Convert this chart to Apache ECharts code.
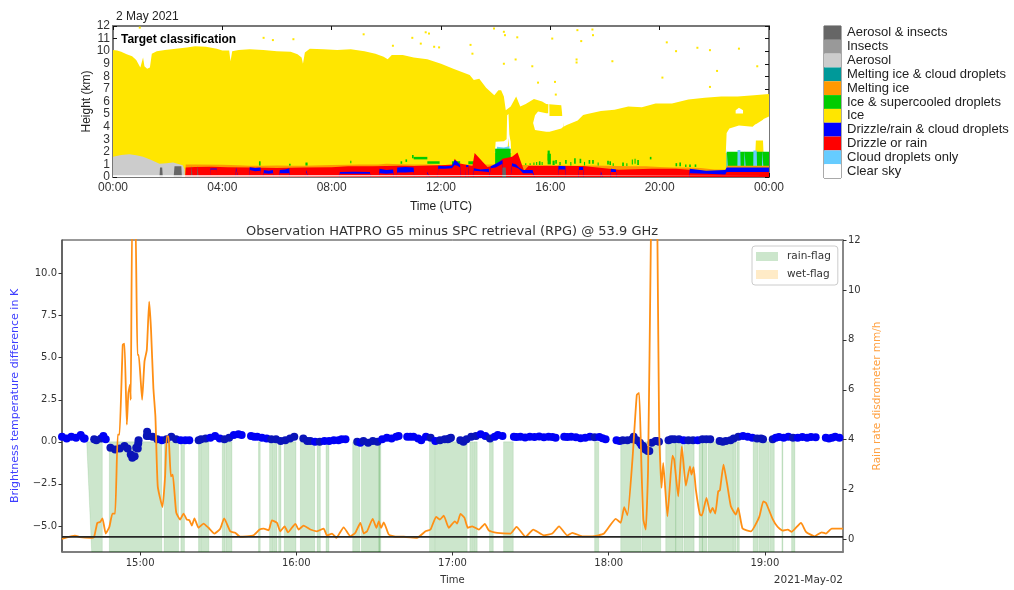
<!DOCTYPE html>
<html><head><meta charset="utf-8">
<style>html,body{margin:0;padding:0;background:#fff}#c{width:1014px;height:590px}</style>
<script src="https://cdn.jsdelivr.net/npm/echarts@6/dist/echarts.min.js"></script>
</head><body><div id="c"></div>
<script>
// ---------- top panel: target classification (hours UTC, km) ----------
const clockLabels = {0:'00:00',4:'04:00',8:'08:00',12:'12:00',16:'16:00',20:'20:00',24:'00:00'};
const classNames = ['Aerosol & insects','Insects','Aerosol','Melting ice & cloud droplets','Melting ice','Ice & supercooled droplets','Ice','Drizzle/rain & cloud droplets','Drizzle or rain','Cloud droplets only','Clear sky'];
const classColors = ['#666666','#999999','#cccccc','#009999','#ff9900','#00cc00','#ffe600','#0000ff','#ff0000','#66ccff','#ffffff'];

const iceTime = [0,.15,.3,.5,.7,.85,1,1.05,1.1,1.15,1.25,1.35,1.42,1.6,1.9,2.3,2.7,3,3.4,3.8,4,4.25,4.3,4.36,4.6,5,5.5,6,6.5,6.75,6.9,6.95,7.02,7.2,7.7,8.2,8.7,9.2,9.6,9.9,10.05,10.2,10.6,11,11.5,12,12.45,13.05,13.2,13.4,13.65,13.95,14.1,14.2,14.3,14.37,14.55,14.7,14.75,14.9,15.1,15.4,15.7,15.85,15.9,16.4,16.46,16.48,16.6,17,17.2,17.35,17.85,18.35,18.85,19.35,19.85,20.45,21.05,21.65,22.25,22.85,23.45,24];
const iceTop  = [10.1,10.05,9.95,9.75,9.6,9.3,8.7,8.6,9.5,8.8,8.6,8.7,9.8,10,10.1,10.2,10.3,10.4,10.35,10.2,10.05,10.05,9.2,10,10.1,10.15,10.1,10,9.95,9.75,9.5,9,9.9,10.2,10.15,10.1,10.15,10,9.8,9.55,9.35,9.7,9.7,9.5,9.35,9,8.6,8.1,7.7,7.8,7.1,6.5,6.9,6.9,6.4,5.3,5.6,6.2,6.4,5.6,5.8,6.2,6,5.8,5.7,5.7,5.65,4,4.13,4.5,4.93,5,5.25,5.35,5.6,5.55,5.85,5.85,6.15,6.3,6.4,6.4,6.5,6.6];

const gapATime = [15.37,15.44,15.55,15.85,15.92,15.93,15.96,15.97,16.4,16.45,16.46,16.47];
const gapATop  = [4.3,4.9,5.2,5.07,5.07,6,6,4.85,4.85,4.85,5.8,5.8];
const gapABase = [4.3,3.73,3.7,3.6,3.6,3.6,3.6,3.6,3.85,3.95,3.95,4];
const gapBTime = [22.78,22.9,23.05];
const gapBTop  = [5.3,5.5,5.3];
const gapBBase = [5.05,5.05,5.05];
const gapCTime = [22.42,22.45,22.55,22.9,23.4,23.5,23.52,23.78,23.8,24];
const gapCTop  = [1.9,3.5,3.85,4.1,4,4.2,4.2,4.55,4.6,4.8];
const gapCBase = [1.9,1.9,1.9,1.9,1.9,1.9,2.9,2.9,1.9,1.9];
const gapDTime = [13.97,14,14.3,14.4,14.42,14.47,14.5,14.53,14.55,14.57];
const gapDTop  = [1.9,2.8,2.85,3,4.9,5,3.4,3,2.8,1.9];
const gapDBase = [1.9,1.9,1.9,1.9,1.9,3.1,1.9,1.9,1.9,1.9];

const capTime = [13.98,14.05,14.3,14.33,14.5,14.53];
const capTop  = [0,2.4,2.35,2.45,2.45,0];

const greenStart = [5.34,6.44,7.04,8.68,10.52,10.7,10.94,11,11.5,12.4,13,13.98,15.08,15.24,15.38,15.48,15.58,15.68,15.9,15.9,16.08,16.18,16.33,16.54,16.73,16.87,17.07,17.23,17.4,17.53,17.73,18.08,18.16,18.28,18.63,18.78,18.98,19.08,19.18,19.64,20.58,20.72,20.93,21.08,21.28,22.45];
const greenEnd   = [5.4,6.5,7.12,8.72,10.58,10.76,11,11.5,11.95,12.7,13.22,14.55,15.12,15.28,15.42,15.52,15.64,15.72,15.98,16.02,16.16,16.24,16.38,16.6,16.77,16.93,17.13,17.27,17.46,17.59,17.77,18.14,18.22,18.32,18.69,18.82,19.02,19.12,19.24,19.7,20.64,20.78,20.98,21.14,21.34,24];
const greenBase  = [.9,.9,.9,1.1,1.05,1.2,1.5,1.4,1.05,.95,1,.95,.9,.9,.9,.95,.95,.95,1.3,1,.95,1.05,.95,1.05,.9,1.05,1.1,.9,1.05,1.05,.9,1,.95,.85,.85,.85,1,1.05,.95,1.4,.85,.85,.8,.8,.8,.8];
const greenTop   = [1.25,1.05,1.15,1.3,1.25,1.4,1.75,1.6,1.25,1.25,1.25,2.25,1.1,1.1,1.15,1.2,1.25,1.2,2.1,1.85,1.3,1.35,1.2,1.35,1.2,1.5,1.45,1.2,1.35,1.35,1.15,1.3,1.25,1.1,1.15,1.1,1.4,1.45,1.35,1.6,1.1,1.15,1,1,1,2];

const aerosolTime = [0,.3,.6,.85,1.1,1.4,1.7,1.95,2.2,2.55,2.62,2.63];
const aerosolTop  = [1.6,1.75,1.8,1.72,1.6,1.35,1.05,1.1,1.15,.93,.6,0];

const cloudTime = [22.44,22.45,22.5,22.52,22.84,22.85,22.95,22.97,23.09,23.1,23.16,23.18,23.42,23.43,23.55,23.57,23.74,23.75,23.8,23.82];
const cloudTop  = [0,2.25,2.25,0,0,2.15,2.15,0,0,2.1,2.1,0,0,2.1,2.1,0,0,2.15,2.15,0];

const meltTime = [2.64,2.66,3,4,4.6,5,5.5,6,6.6,7,8,8.6,9,9.7,10,10.5,11,11.6,12,12.5,13,13.8,14.1,15,16,16.6,17,17.5,18,18.5,19,19.5,20,20.5,21,21.5,22,22.44,22.46,24];
const meltTop  = [0,1,1,.97,.93,.9,.9,.92,.9,.9,.95,.97,1,1,1.05,1.02,1,1,.95,.96,1,1,1,.95,.95,.92,.9,.92,.9,.88,.85,.86,.8,.75,.75,.72,.6,.6,.9,.9];

const redTime = [2.64,2.66,3,3.6,4.2,5,6,7,8,8.6,9.5,10.5,11,12,12.45,12.5,12.65,13.15,13.23,13.7,14,14.25,14.6,14.8,15.04,15.2,16,17.2,18.5,19.7,20.6,21.3,22.4,24];
const redTop  = [0,.75,.8,.82,.78,.75,.72,.75,.78,.85,.85,.9,.88,.93,1,1.46,1.1,.87,1.9,.8,.93,1.46,1.6,1.95,.5,.87,.87,.87,.58,.66,.66,.53,.32,.4];

const blueTime = [3.55,3.56,3.8,3.81,4.48,4.5,4.56,4.58,4.98,5,5.2,5.4,5.42,5.5,5.52,5.7,5.85,5.87,6.08,6.1,6.3,6.45,6.47,7.05,7.07,7.12,7.14,8.28,8.3,8.8,9.4,9.42,9.73,9.75,10,10.25,10.27,10.38,10.4,10.7,11,11.02,11.48,11.5,11.56,11.58,11.88,11.9,12.15,12.4,12.5,12.6,12.7,12.72,12.9,12.92,13,13.02,13.18,13.2,13.45,13.75,13.77,13.8,13.82,14,14.25,14.27,14.55,14.6,14.75,14.85,15,15.35,15.4,15.42,16.28,16.3,16.55,16.57,17.03,17.05,17.2,17.22,17.83,17.85,17.9,17.92,18.2,18.22,18.4,18.42,21.08,21.1,21.7,22.4,22.45,24];
const blueTop  = [0,.68,.68,0,0,.78,.78,0,0,.78,.72,.75,0,0,.55,.5,.55,0,0,.55,.6,.7,0,0,.55,.55,0,0,.4,.42,.4,0,0,.65,.55,.6,0,0,.75,.8,.75,0,0,.42,.42,0,0,.9,.85,.9,1.35,1.2,.95,0,0,.95,.95,0,0,.7,.6,.65,0,0,.85,1.05,1.35,0,0,1.1,1,.75,.55,.55,.55,0,0,.9,.85,0,0,.8,.8,0,0,.45,.45,0,0,.65,.6,0,0,.65,.5,.55,.75,.75];
const blueBase = [0,.6,.6,0,0,.6,.6,0,0,.55,.45,.5,0,0,.3,.25,.3,0,0,.3,.3,.3,0,0,.4,.4,0,0,.25,.25,.25,0,0,.3,.25,.3,0,0,.35,.35,.4,0,0,.3,.3,0,0,.65,.65,.7,.95,.9,.75,0,0,.8,.8,0,0,.5,.45,.4,0,0,.7,.75,1.05,0,0,.85,.75,.65,.3,.3,.35,0,0,.6,.6,0,0,.55,.55,0,0,.3,.3,0,0,.4,.4,0,0,.3,.25,.2,.4,.4];

const mixedTime = [1.7,1.72,1.8,1.82,2.22,2.25,2.5,2.52,2.86,2.87,2.9,2.91,3.08,3.09,3.12,3.13,14.24,14.25,14.37,14.38];
const mixedTop  = [0,.75,.75,0,0,.85,.85,0,0,.9,.9,0,0,.9,.9,0,0,.75,.75,0];
const groundTime = [0,24];
const groundTop  = [.13,.13];

const speckTime = [11.44,11.26,11.75,13.08,13.15,13.94,14.3,14.34,14.79,14.73,14.3,15.34,15.55,16.07,16.17,16.2,16.99,17.13,17.54,17.56,16.96,16.96,18.27,20.1,20.26,20.6,21.38,21.84,21.84,22.1,22.9,23.57,11.56,11.93,.98,5.51,5.85,6.6,9.17,10.95,10.24];
const speckKm   = [11.5,10.6,10.35,10.5,9.8,11.8,11.54,11.27,11.1,9.34,9,8.8,7.5,11,7.56,6.55,11.67,10.8,11.72,11.27,9.34,9.1,9.2,7.9,10.7,10,10.27,10.08,7.16,8.43,10.2,8.8,11.4,10.3,11.87,11.06,10.88,10.95,11.34,11.06,10.43];

// ---------- bottom panel (decimal hours) ----------
const hourLabels = {15:'15:00',16:'16:00',17:'17:00',18:'18:00',19:'19:00'};
const diffTicks = [-5,-2.5,0,2.5,5,7.5,10];
const diffTickLabels = ['\u22125.0','\u22122.5','0.0','2.5','5.0','7.5','10.0'];
const rateTicks = [0,2,4,6,8,10,12];

const rainStart = [14.69,14.803,15.154,15.261,15.374,15.389,15.526,15.549,15.758,15.829,15.855,15.887,15.923,16.026,16.133,16.19,16.361,16.417,16.528,16.853,16.891,17.111,17.137,17.237,17.327,17.91,18.077,18.212,18.365,18.429,18.483,18.579,18.6,18.637,18.797,18.821,18.925,18.964,19.034,19.109,19.171];
const rainEnd   = [14.758,15.139,15.246,15.284,15.385,15.44,15.544,15.588,15.769,15.851,15.876,15.902,15.998,16.118,16.154,16.209,16.406,16.534,16.541,16.887,17.094,17.133,17.158,17.261,17.389,17.936,18.205,18.333,18.429,18.476,18.547,18.6,18.628,18.793,18.814,18.836,18.957,19.028,19.06,19.115,19.192];
const rainLeadIn = 14.658;

const btTime = [14.5,14.53,14.56,14.59,14.62,14.64,14.645,
14.706,14.72,14.75,14.765,14.78,14.81,14.84,14.87,14.9,14.92,14.94,14.95,14.965,14.975,14.985,14.988,14.99,
15.043,15.045,15.055,15.08,15.11,15.14,15.17,15.2,15.23,15.26,15.29,15.315,
15.375,15.39,15.42,15.45,15.48,15.51,15.54,15.57,15.6,15.63,15.65,
15.71,15.73,15.75,15.78,15.81,15.84,15.87,15.9,15.93,15.96,15.987,
16.045,16.07,16.09,16.12,16.15,16.18,16.21,16.24,16.27,16.29,16.315,
16.39,16.41,16.43,16.46,16.49,16.52,
16.55,16.58,16.61,16.64,16.655,
16.71,16.73,16.75,16.78,16.8,16.83,16.86,16.89,16.92,16.95,16.97,16.98,16.99,
17.05,17.07,17.09,17.12,17.15,17.18,17.21,17.24,17.27,17.29,17.32,
17.393,17.41,17.435,17.465,17.495,17.525,17.555,17.585,17.615,17.64,17.66,
17.715,17.735,17.76,17.79,17.82,17.85,17.88,17.91,17.94,17.96,17.98,
18.05,18.07,18.09,18.12,18.15,18.16,18.18,18.2,18.21,18.22,18.235,18.25,18.26,18.275,18.3,18.31,18.322,
18.383,18.4,18.42,18.45,18.48,18.51,18.54,18.57,18.6,18.625,18.65,
18.71,18.73,18.75,18.78,18.8,18.83,18.86,18.89,18.92,18.95,18.975,18.988,
19.05,19.07,19.09,19.12,19.15,19.18,19.21,19.24,19.27,19.295,19.325,
19.39,19.41,19.43,19.45,19.477];
const btDiff = [.3,.2,.3,.25,.4,.2,.2,
.15,.1,.2,.35,.15,-.35,-.45,-.4,-.25,-.4,-.75,-.95,-.85,-.35,-.4,-.1,.1,
.35,.6,.35,.3,.15,.1,.15,.3,.15,.1,.1,.1,
.1,.15,.2,.25,.35,.2,.15,.25,.4,.45,.4,
.35,.3,.3,.25,.2,.15,.15,.05,.1,.2,.3,
.2,.05,.05,0,0,.05,.05,.1,.1,.15,.15,
0,-.05,.05,-.05,.05,0,
.15,.25,.2,.3,.35,
.3,.3,.3,.2,.1,.3,.25,.05,.1,.15,.15,.2,.25,
.1,0,.15,.3,.35,.45,.35,.2,.3,.4,.35,
.3,.28,.3,.26,.3,.28,.32,.27,.3,.28,.25,
.3,.28,.3,.27,.22,.25,.3,.27,.28,.22,.15,
.1,.05,.1,.1,.15,.3,.1,-.05,-.2,-.25,-.45,-.55,-.55,-.05,.05,.05,0,
.1,.15,.15,.15,.1,.1,.1,.1,.15,.15,.15,
.05,0,.05,.1,.2,.3,.35,.3,.25,.2,.2,.15,
.15,.25,.28,.25,.3,.25,.25,.28,.25,.28,.27,
.25,.2,.25,.3,.25];

const rateTime = [14.5,14.583,14.615,14.68,14.705,14.726,14.744,14.759,14.78,14.803,14.823,14.84,14.857,14.868,14.889,14.9,14.915,14.925,14.936,14.94,14.951,14.968,14.983,14.991,15.013,15.028,15.043,15.058,15.07,15.085,15.098,15.113,15.143,15.16,15.171,15.182,15.197,15.209,15.231,15.256,15.278,15.299,15.316,15.331,15.348,15.374,15.406,15.438,15.476,15.513,15.538,15.577,15.609,15.641,15.726,15.765,15.791,15.823,15.844,15.876,15.897,15.925,15.947,15.994,16.015,16.047,16.09,16.132,16.175,16.197,16.229,16.256,16.303,16.346,16.378,16.41,16.432,16.453,16.489,16.513,16.528,16.543,16.56,16.592,16.635,16.688,16.773,16.827,16.859,16.895,16.919,16.944,16.976,17.015,17.03,17.051,17.077,17.098,17.126,17.169,17.207,17.233,17.286,17.372,17.41,17.468,17.517,17.585,17.639,17.682,17.735,17.767,17.831,17.895,17.97,18.045,18.077,18.099,18.12,18.152,18.18,18.195,18.21,18.222,18.237,18.252,18.27,18.274,18.302,18.312,18.323,18.338,18.349,18.376,18.408,18.419,18.445,18.468,18.494,18.52,18.53,18.543,18.558,18.584,18.596,18.626,18.65,18.665,18.682,18.701,18.712,18.735,18.757,18.782,18.814,18.829,18.857,18.911,18.964,18.99,19.007,19.049,19.081,19.113,19.146,19.171,19.231,19.263,19.317,19.364,19.391,19.428,19.5];
const rateMmh = [.03,.16,.1,.07,.1,.67,.7,.85,.24,.5,1.04,1.04,4.2,4.2,7.8,7.85,4.6,5.87,6.2,5.6,13.5,13.5,7.4,7.4,5.6,7.13,7.6,9.53,8.4,6.07,4.93,2.13,1.3,2.53,4.13,4.13,2.53,2.6,1.09,.8,1.04,.8,.77,.56,.85,.47,.64,.47,.24,.43,.85,.33,.27,.11,.17,.4,.44,.37,.77,.67,.33,.53,.29,.63,.4,.56,.4,.33,.44,.16,.24,.07,.49,.13,.27,.67,.24,.33,.83,.47,.73,.47,.69,.2,.11,.11,.07,.33,.4,.91,.8,.96,.47,.73,.64,1.03,.87,.47,.53,.4,.63,.36,.27,.24,.51,.11,.4,.17,.24,.53,.16,.27,.13,.13,.24,.83,.67,1.3,.97,3.2,5.8,5.87,2.8,.8,.4,2.8,12,14,14,12,4.4,2.07,3.07,.93,3.36,3.2,1.73,3.73,2.16,2.93,2.6,2.9,2,1,.96,1.67,1.07,1.27,1.04,1.93,1.97,3,2.27,1.33,1,1.27,.44,.33,.91,1.53,1.47,.83,.51,.36,.4,.31,.67,.31,.13,.29,.24,.44,.44];

const refTime = [14.5,19.5];
const refDiff = [-5.65,-5.65];

// ---------- helpers ----------
const zip = (a,b) => a.map((v,i)=>[v,b[i]]);
const sans = 'Liberation Sans';
const dejavu = 'DejaVu Sans';
const diffMin = -6.55;

function layer(name, xs, ys, color){
  return {name, type:'line', xAxisIndex:0, yAxisIndex:0, data:zip(xs,ys), showSymbol:false, silent:true,
    lineStyle:{width:0}, itemStyle:{color}, areaStyle:{color, opacity:1}, z:2, animation:false, smooth:false};
}
// one closed polygon between a lower and an upper edge, drawn once through the axis scales
function band(name, xs, tops, bases, color){
  const rows = xs.map((x,i)=>[x,bases[i],tops[i]]);
  return {name, type:'custom', xAxisIndex:0, yAxisIndex:0, data:rows, encode:{x:0,y:[1,2]}, z:2, silent:true, clip:true,
    renderItem(p,api){
      if(p.dataIndex!==0) return null;
      const up = rows.map(r=>api.coord([r[0],r[2]]));
      const low = rows.map(r=>api.coord([r[0],r[1]])).reverse();
      return {type:'polygon',shape:{points:up.concat(low)},style:{fill:color}};
    }};
}
const inRain = t => rainStart.some((s,i)=>t>=s && t<=rainEnd[i]);
const rainRows = rainStart.map((s,i)=>[s, i===0?rainLeadIn:s, rainEnd[i]]);
const greenRows = greenStart.map((s,i)=>[s,greenEnd[i],greenBase[i],greenTop[i]]);

const series = [
  layer('ice', iceTime, iceTop, classColors[6]),
  band('gapA', gapATime, gapATop, gapABase, '#ffffff'),
  band('gapB', gapBTime, gapBTop, gapBBase, '#ffffff'),
  band('gapC', gapCTime, gapCTop, gapCBase, '#ffffff'),
  band('gapD', gapDTime, gapDTop, gapDBase, '#ffffff'),
  layer('cap', capTime, capTop, classColors[9]),
  {name:'green', type:'custom', xAxisIndex:0, yAxisIndex:0, data:greenRows, encode:{x:[0,1],y:[2,3]}, z:2, silent:true, clip:true,
    renderItem(p,api){
      const a=api.coord([api.value(0),api.value(2)]), b=api.coord([api.value(1),api.value(3)]);
      return {type:'rect',shape:{x:a[0],y:b[1],width:b[0]-a[0],height:a[1]-b[1]},style:{fill:classColors[5]}};
    }},
  layer('cloud', cloudTime, cloudTop, classColors[9]),
  layer('aerosol', aerosolTime, aerosolTop, classColors[2]),
  layer('melt', meltTime, meltTop, classColors[4]),
  layer('red', redTime, redTop, classColors[8]),
  layer('blue', blueTime, blueTop, classColors[7]),
  layer('red-base', blueTime, blueBase, classColors[8]),
  layer('mixed', mixedTime, mixedTop, classColors[0]),
  layer('ground', groundTime, groundTop, '#ffffff'),
  {name:'specks', type:'scatter', xAxisIndex:0, yAxisIndex:0, data:zip(speckTime,speckKm), symbol:'rect', symbolSize:2, itemStyle:{color:classColors[6],opacity:1}, silent:true, z:3},
  {name:'classes', type:'bar', xAxisIndex:3, yAxisIndex:4, barWidth:'100%', silent:true, z:2,
    data:classNames.map((n,i)=>({value:1,itemStyle:{color:classColors[i]}}))},
  {name:'rain-flag', type:'custom', xAxisIndex:2, yAxisIndex:2, data:rainRows, encode:{x:[0,1,2]}, z:2, silent:true,
    itemStyle:{color:'rgba(0,128,0,0.2)'}, clip:true,
    renderItem(p,api){
      const a=api.coord([api.value(0),diffMin]), b=api.coord([api.value(1),0]), c=api.coord([api.value(2),0]), d=api.coord([api.value(2),diffMin]);
      return {type:'polygon',shape:{points:[a,b,c,d]},style:{fill:'rgba(0,128,0,0.2)',stroke:'rgba(0,128,0,0.1)',lineWidth:1}};
    }},
  {name:'wet-flag', type:'custom', xAxisIndex:2, yAxisIndex:2, data:[], itemStyle:{color:'rgba(255,165,0,0.22)'}, renderItem(){return null;}},
  {name:'difference', type:'scatter', xAxisIndex:2, yAxisIndex:2, data:zip(btTime,btDiff), symbol:'circle', symbolSize:8, z:3, silent:true,
    itemStyle:{opacity:1,color:p=>inRain(p.value[0])?'#0a14b8':'#0000f5'}},
  {name:'rain rate', type:'line', xAxisIndex:2, yAxisIndex:3, data:zip(rateTime,rateMmh), showSymbol:false, smooth:0.15, silent:true, z:4,
    lineStyle:{color:'#ff8f14',width:1.8}, itemStyle:{color:'#ff8f14'}},
  {name:'reference', type:'line', xAxisIndex:2, yAxisIndex:2, data:zip(refTime,refDiff), showSymbol:false, silent:true, z:5,
    lineStyle:{color:'#262626',width:1.6}}
];

const option = {
  animation:false, backgroundColor:'#fff',
  title:[
    {text:'Observation HATPRO G5 minus SPC retrieval (RPG) @ 53.9 GHz', left:447, top:220, textAlign:'center',
     textStyle:{fontFamily:dejavu,fontSize:13,fontWeight:'normal',color:'#333'}},
    {text:'2 May 2021', left:111, top:6, textStyle:{fontFamily:sans,fontSize:12,fontWeight:'normal',color:'#222'}},
    {text:'Target classification', left:116, top:29, z:10, textStyle:{fontFamily:sans,fontSize:12,fontWeight:'bold',color:'#000'}}
  ],
  grid:[
    {left:113,top:26,width:656,height:151,show:false},
    {left:62,top:240,width:781,height:313,show:true,borderColor:'#333',borderWidth:1,backgroundColor:'#fff'},
    {left:824,top:26,width:17,height:152,show:true,borderColor:'#555',borderWidth:1}
  ],
  xAxis:[
    {type:'value',gridIndex:0,min:0,max:24,interval:4,position:'bottom',
     name:'Time (UTC)',nameLocation:'middle',nameGap:24,nameTextStyle:{fontFamily:sans,fontSize:12,color:'#222'},
     axisLine:{show:true,onZero:false,lineStyle:{color:'#777',width:2}},
     axisTick:{show:true,inside:true,length:4,lineStyle:{color:'#111'}},splitLine:{show:false},
     axisLabel:{fontFamily:sans,fontSize:12,color:'#333',margin:5,showMinLabel:true,showMaxLabel:true,formatter:v=>clockLabels[v]}},
    {type:'value',gridIndex:0,min:0,max:24,interval:4,position:'top',
     axisLine:{show:true,onZero:false,lineStyle:{color:'#777',width:2}},
     axisTick:{show:true,inside:true,length:4,lineStyle:{color:'#111'}},axisLabel:{show:false},splitLine:{show:false}},
    {type:'value',gridIndex:1,min:14.5,max:19.5,position:'bottom',
     name:'Time',nameLocation:'middle',nameGap:23,nameTextStyle:{fontFamily:dejavu,fontSize:10,color:'#333'},
     axisLine:{show:true,onZero:false,lineStyle:{color:'#777',width:1.5}},
     axisTick:{show:true,length:3.5,lineStyle:{color:'#333'},customValues:[15,16,17,18,19]},splitLine:{show:false},
     axisLabel:{fontFamily:dejavu,fontSize:10,color:'#333',margin:6,customValues:[15,16,17,18,19],formatter:v=>hourLabels[v]}},
    {type:'value',gridIndex:2,min:0,max:1,show:false}
  ],
  yAxis:[
    {type:'value',gridIndex:0,min:0,max:12,interval:1,position:'left',
     name:'Height (km)',nameLocation:'middle',nameGap:20,nameMoveOverlap:false,nameTextStyle:{fontFamily:sans,fontSize:12,color:'#222'},
     axisLine:{show:true,onZero:false,lineStyle:{color:'#777',width:2}},
     axisTick:{show:true,inside:true,length:4,lineStyle:{color:'#111'}},splitLine:{show:false},
     axisLabel:{fontFamily:sans,fontSize:12,color:'#333',margin:3,showMinLabel:true,showMaxLabel:true}},
    {type:'value',gridIndex:0,min:0,max:12,interval:1,position:'right',
     axisLine:{show:true,onZero:false,lineStyle:{color:'#777',width:2}},
     axisTick:{show:true,inside:true,length:4,lineStyle:{color:'#111'}},axisLabel:{show:false},splitLine:{show:false}},
    {type:'value',gridIndex:1,min:diffMin,max:12,position:'left',
     name:'Brightness temperature difference in K',nameLocation:'middle',nameGap:41,nameTextStyle:{fontFamily:dejavu,fontSize:11,color:'#3c3cff'},
     axisLine:{show:true,onZero:false,lineStyle:{color:'#555',width:1.5}},
     axisTick:{show:true,length:3.5,lineStyle:{color:'#333'},customValues:diffTicks},splitLine:{show:false},
     axisLabel:{fontFamily:dejavu,fontSize:10,color:'#333',margin:5,customValues:diffTicks,formatter:v=>diffTickLabels[diffTicks.indexOf(v)]}},
    {type:'value',gridIndex:1,min:-0.5,max:12,position:'right',
     name:'Rain rate disdrometer mm/h',nameLocation:'middle',nameGap:18,nameTextStyle:{fontFamily:dejavu,fontSize:10.5,color:'#ffa040'},
     axisLine:{show:true,onZero:false,lineStyle:{color:'#888',width:2}},
     axisTick:{show:true,length:3.5,lineStyle:{color:'#333'},customValues:rateTicks},splitLine:{show:false},
     axisLabel:{fontFamily:dejavu,fontSize:10,color:'#333',margin:5,customValues:rateTicks}},
    {type:'category',gridIndex:2,data:classNames,inverse:true,position:'right',
     axisLine:{show:false},axisTick:{show:false},splitLine:{show:false},
     axisLabel:{fontFamily:sans,fontSize:13,color:'#222',margin:6,interval:0,padding:[2,0,0,0]}}
  ],
  legend:{left:752,top:246,orient:'vertical',selectedMode:false,padding:[5,7,5,4],itemWidth:22,itemHeight:9,itemGap:7,
    backgroundColor:'#fff',borderColor:'#ccc',borderWidth:1,borderRadius:3,
    textStyle:{fontFamily:dejavu,fontSize:10.5,color:'#333',padding:[0,0,0,4]},
    data:[{name:'rain-flag',icon:'rect',itemStyle:{color:'rgba(0,128,0,0.2)'}},{name:'wet-flag',icon:'rect',itemStyle:{color:'rgba(255,165,0,0.22)'}}]},
  graphic:[{type:'text',right:171,top:575,style:{text:'2021-May-02',fontFamily:dejavu,fontSize:10.5,fill:'#333'}}],
  series
};
const chart = echarts.init(document.getElementById('c'),null,{renderer:'canvas'});
chart.setOption(option);
</script></body></html>
